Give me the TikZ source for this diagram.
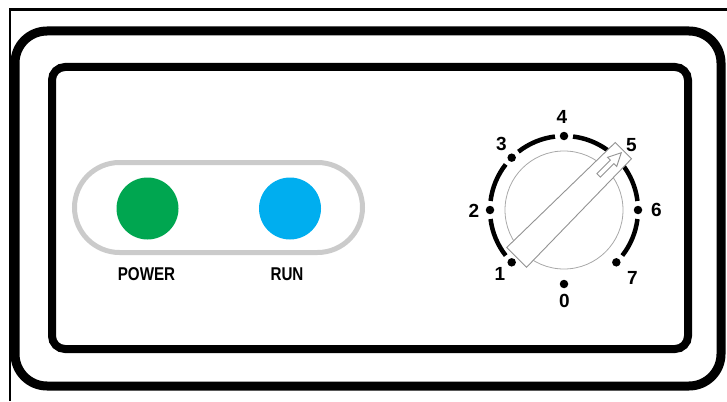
\documentclass[tikz,border=0pt]{standalone}
\usepackage{fontspec}
\setmainfont{Liberation Sans}
\newfontfamily\narrowfont{Liberation Sans}[FakeStretch=0.82]
\definecolor{ledgreen}{HTML}{00A650}
\definecolor{ledblue}{HTML}{00AEEF}
\definecolor{capsulegray}{HTML}{CBCBCB}
\definecolor{dialgray}{HTML}{A8A8A8}
\begin{document}
\begin{tikzpicture}[x=1pt,y=-1pt,
  thinframe/.style={line width=2.2pt},
  outerframe/.style={line width=9pt, rounded corners=32pt},
  innerframe/.style={line width=8pt, rounded corners=13pt},
  capsule/.style={draw=capsulegray, line width=5pt, rounded corners=45pt},
  led/.style={circle, inner sep=0pt, minimum size=62pt},
  ledlabel/.style={inner sep=0pt, font=\narrowfont\bfseries\fontsize{18.5}{18.5}\selectfont},
  digit/.style={inner sep=0pt, font=\bfseries\fontsize{19}{19}\selectfont},
  dialdot/.style={circle, fill=black, inner sep=0pt, minimum size=8.5pt},
  dialarc/.style={line width=4.5pt},
  dialring/.style={draw=dialgray, line width=0.8pt},
  pointer/.style={draw=gray!85, fill=white, line width=0.9pt, line join=miter},
]
\useasboundingbox (0,0) rectangle (727,401);
% thin outer frame (cropped)
\draw[thinframe] (10,401) -- (10,9.5) -- (727,9.5);
% panel frames
\draw[outerframe] (15,31) rectangle (721,386);
\draw[innerframe] (52,67) rectangle (688,349);
% indicator capsule
\draw[capsule] (74.5,162.5) rectangle (362.5,252.5);
\node[led, fill=ledgreen] (power) at (147.5,208.5) {};
\node[led, fill=ledblue] (run) at (290,208.5) {};
\node[ledlabel] (powerlabel) at (146.5,274.5) {POWER};
\node[ledlabel] (runlabel) at (287,274.5) {RUN};
% dial
\begin{scope}[shift={(564,210)}, yscale=-1]
  \draw[dialring] (0,0) circle[radius=59];
  \draw[dialarc] (218:74) arc[start angle=218, end angle=187, radius=74];
  \draw[dialarc] (173:74) arc[start angle=173, end angle=142, radius=74];
  \draw[dialarc] (128:74) arc[start angle=128, end angle=97, radius=74];
  \draw[dialarc] (83:74) arc[start angle=83, end angle=7, radius=74];
  \draw[dialarc] (-7:74) arc[start angle=-7, end angle=-38, radius=74];
  \node[dialdot] (d0) at (270:74) {};
  \node[dialdot] (d1) at (225:74) {};
  \node[dialdot] (d2) at (180:74) {};
  \node[dialdot] (d3) at (135:74) {};
  \node[dialdot] (d4) at (90:74) {};
  \node[dialdot] (d6) at (0:74) {};
  \node[dialdot] (d7) at (-45:74) {};
\end{scope}
\begin{scope}[shift={(564,210)}, rotate=45, yscale=-1]
  \draw[pointer] (-67,-14) -- (84,-11.5) -- (84,11.5) -- (-67,14) -- cycle;
  \draw[pointer] (49,-2.5) -- (68,-2.5) -- (68,-6.5) -- (81,0) -- (68,6.5) -- (68,2.5) -- (49,2.5) -- cycle;
\end{scope}
\node[digit] (l0) at (564.5,300.5) {0};
\node[digit] (l1) at (500,273.5) {1};
\node[digit] (l2) at (474,210.5) {2};
\node[digit] (l3) at (501.5,143.5) {3};
\node[digit] (l4) at (562,117) {4};
\node[digit] (l5) at (631.5,145) {5};
\node[digit] (l6) at (656.5,210) {6};
\node[digit] (l7) at (632.5,277.5) {7};
\end{tikzpicture}
\end{document}
